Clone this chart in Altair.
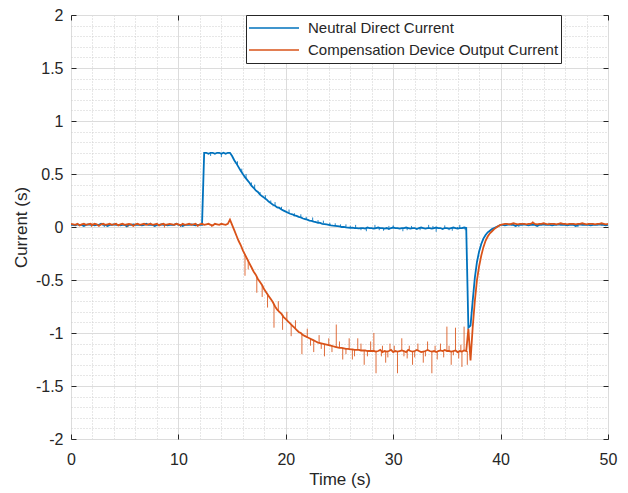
import altair as alt
import pandas as pd

# Sample grid: 0.2 s steps from 0 to 50 s
T = [round(0.2 * i, 1) for i in range(251)]

# ---- Neutral Direct Current ----
NDC_IDLE = [0.02, 0.02, 0.015, 0.025, 0.02, 0.02, 0.01, 0.02, 0.025, 0.02,
            0.02, 0.015, 0.02, 0.02, 0.03, 0.02, 0.02, 0.01, 0.02, 0.02,
            0.025, 0.02, 0.02, 0.015, 0.02, 0.02, 0.005, 0.02, 0.02, 0.025,
            0.02, 0.02, 0.02, 0.015, 0.02, 0.03, 0.02, 0.02, 0.02, 0.01,
            0.02, 0.02, 0.025, 0.02, 0.02, 0.015, 0.02, 0.02, 0.02, 0.03,
            0.02, 0.02, 0.01, 0.02, 0.02, 0.02, 0.025, 0.02, 0.015, 0.02,
            0.02, 0.02]                                   # 0.0 .. 12.2 s
NDC_STEP = [0.70, 0.70, 0.69, 0.70, 0.70, 0.69, 0.70, 0.70, 0.69, 0.70,
            0.69, 0.70, 0.70]                             # 12.4 .. 14.8 s
NDC_DECAY = [0.67, 0.63, 0.60, 0.565, 0.53, 0.50, 0.47, 0.445, 0.42, 0.39,
             0.37, 0.345, 0.33, 0.305, 0.29, 0.275, 0.26, 0.24, 0.225, 0.21,
             0.20, 0.185, 0.18, 0.165, 0.155, 0.145, 0.135, 0.125, 0.12, 0.11,
             0.105, 0.095, 0.09, 0.08, 0.075, 0.07, 0.06, 0.058, 0.05, 0.045,
             0.04, 0.038, 0.03, 0.028, 0.025, 0.02, 0.015, 0.012, 0.01, 0.008,
             0.005, 0.0, 0.002, -0.003, -0.005, -0.008, -0.006, -0.01, -0.01, -0.012,
             -0.01]                                       # 15.0 .. 27.0 s
NDC_FLAT = [-0.01, -0.015, -0.005, -0.01, -0.01, -0.015, -0.01, -0.005, -0.01, -0.01,
            -0.015, -0.01, -0.02, -0.01, -0.005, -0.01, -0.01, -0.015, -0.01, -0.01,
            -0.005, -0.01, -0.015, -0.01, -0.01, -0.02, -0.01, -0.005, -0.01, -0.015,
            -0.01, -0.01, -0.015, -0.01, -0.005, -0.01, -0.01, -0.02, -0.01, -0.01,
            -0.015, -0.01, -0.005, -0.01, -0.015, -0.01, -0.01, -0.005, -0.01]  # 27.2 .. 36.8 s
NDC_DIP = [-0.95, -0.93, -0.70, -0.48, -0.33, -0.23, -0.16, -0.11, -0.075, -0.05,
           -0.035, -0.02, -0.01, 0.0, 0.01]               # 37.0 .. 39.8 s
NDC_END = [0.02, 0.02, 0.015, 0.02, 0.025, 0.02, 0.02, 0.01, 0.02, 0.02,
           0.02, 0.025, 0.02, 0.015, 0.02, 0.02, 0.02, 0.01, 0.02, 0.02,
           0.025, 0.02, 0.02, 0.02, 0.015, 0.02, 0.02, 0.025, 0.02, 0.02,
           0.02, 0.015, 0.02, 0.02, 0.02, 0.01, 0.02, 0.025, 0.02, 0.02,
           0.02, 0.02, 0.015, 0.02, 0.02, 0.02, 0.025, 0.02, 0.02, 0.015,
           0.02]                                          # 40.0 .. 50.0 s

# ---- Compensation Device Output Current ----
CDO_IDLE = [0.03, 0.025, 0.02, 0.03, 0.015, 0.025, 0.03, 0.02, 0.025, 0.03,
            0.02, 0.03, 0.025, 0.01, 0.025, 0.03, 0.02, 0.025, 0.03, 0.02,
            0.025, 0.03, 0.015, 0.025, 0.03, 0.02, 0.025, 0.03, 0.025, 0.01,
            0.025, 0.03, 0.02, 0.025, 0.03, 0.02, 0.025, 0.03, 0.02, 0.025,
            0.03, 0.015, 0.025, 0.03, 0.02, 0.025, 0.03, 0.025, 0.02, 0.03,
            0.025, 0.015, 0.03, 0.02, 0.025, 0.03, 0.02, 0.025, 0.03, 0.01,
            0.025, 0.03, 0.02, 0.025, 0.03, 0.02, 0.015, 0.03, 0.025, 0.02,
            0.03, 0.025, 0.02, 0.03]                      # 0.0 .. 14.6 s
CDO_KICK = [0.07]                                         # 14.8 s
CDO_DECAY = [0.02, -0.03, -0.08, -0.13, -0.17, -0.22, -0.26, -0.30, -0.34, -0.38,
             -0.42, -0.45, -0.49, -0.52, -0.55, -0.59, -0.62, -0.65, -0.68, -0.71,
             -0.75, -0.78, -0.80, -0.82, -0.85, -0.87, -0.89, -0.91, -0.93, -0.95,
             -0.97, -0.99, -1.00, -1.02, -1.03, -1.04, -1.05, -1.06, -1.07, -1.08,
             -1.09, -1.095, -1.10, -1.105, -1.11, -1.115, -1.12, -1.125, -1.13, -1.135,
             -1.14, -1.14, -1.145, -1.15, -1.15, -1.155, -1.155, -1.16, -1.16, -1.16,
             -1.165, -1.165, -1.165, -1.17, -1.17, -1.17]  # 15.0 .. 28.0 s
CDO_FLAT = [-1.17, -1.175, -1.17, -1.16, -1.18, -1.17, -1.175, -1.17, -1.16, -1.18,
            -1.17, -1.175, -1.17, -1.165, -1.17, -1.18, -1.16, -1.17, -1.175, -1.17,
            -1.16, -1.17, -1.18, -1.175, -1.17, -1.16, -1.17, -1.175, -1.17, -1.18,
            -1.17, -1.165, -1.17, -1.16, -1.17, -1.17, -1.175, -1.17, -1.165, -1.18,
            -1.17, -1.175, -1.165, -1.17]                 # 28.2 .. 36.8 s
CDO_DIP = [-0.96, -1.26, -0.95, -0.70, -0.50, -0.37, -0.27, -0.19, -0.13, -0.09,
           -0.06, -0.04, -0.02, -0.005, 0.01]             # 37.0 .. 39.8 s
CDO_END = [0.02, 0.025, 0.03, 0.03, 0.025, 0.03, 0.035, 0.03, 0.025, 0.03,
           0.03, 0.03, 0.025, 0.03, 0.03, 0.04, 0.03, 0.025, 0.03, 0.03,
           0.035, 0.03, 0.025, 0.03, 0.03, 0.03, 0.025, 0.03, 0.035, 0.03,
           0.03, 0.025, 0.03, 0.03, 0.03, 0.025, 0.03, 0.03, 0.035, 0.03,
           0.025, 0.03, 0.03, 0.03, 0.025, 0.03, 0.03, 0.035, 0.03, 0.025,
           0.03]                                          # 40.0 .. 50.0 s

# Short noise spikes: time, level they leave from, level they reach
NDC_SPIKE_T = [3.1, 7.4, 10.2, 13.0, 14.0, 15.5, 15.9, 16.3, 16.8, 17.1,
               17.6, 18.1, 18.6, 19.0, 19.6, 20.3, 20.8, 21.4, 21.9, 22.5,
               23.0, 23.5, 24.1, 24.6, 25.1, 25.6, 26.0, 26.5, 27.0, 27.5,
               28.3, 28.7, 29.1, 29.6, 30.0, 30.9, 31.3, 31.7, 32.5, 33.3,
               33.7, 34.0, 34.8, 35.2, 35.5, 36.0, 36.2, 36.7, 41.7, 44.5,
               47.2]
NDC_SPIKE_FROM = [0.02, 0.02, 0.02, 0.70, 0.70, 0.58, 0.52, 0.46, 0.39, 0.36,
                  0.305, 0.265, 0.225, 0.20, 0.165, 0.135, 0.11, 0.09, 0.072, 0.06,
                  0.04, 0.035, 0.02, 0.01, 0.003, -0.003, -0.008, -0.01, -0.01, -0.01,
                  -0.01, -0.01, -0.01, -0.01, -0.01, -0.01, -0.01, -0.01, -0.01, -0.01,
                  -0.01, -0.01, -0.01, -0.01, -0.01, -0.01, -0.01, -0.01, 0.02, 0.02,
                  0.02]
NDC_SPIKE_TO = [0.0, 0.04, 0.0, 0.67, 0.66, 0.62, 0.55, 0.50, 0.42, 0.40,
                0.33, 0.30, 0.25, 0.235, 0.19, 0.165, 0.13, 0.12, 0.095, 0.09,
                0.065, 0.06, 0.04, 0.035, 0.025, 0.025, 0.012, 0.02, -0.03, -0.04,
                0.02, -0.03, -0.035, 0.01, 0.015, -0.04, -0.03, 0.01, -0.03, 0.02,
                0.01, -0.045, 0.015, -0.03, -0.035, 0.0, 0.02, -0.03, 0.0, 0.04,
                0.0]

CDO_SPIKE_T = [1.9, 5.3, 8.7, 13.1, 16.2, 16.5, 17.3, 17.8, 18.3, 18.9,
               19.3, 19.7, 20.1, 20.5, 20.9, 21.5, 22.0, 22.3, 22.6, 23.1,
               23.3, 23.6, 24.0, 24.3, 24.7, 25.0, 25.3, 25.6, 25.9, 26.2,
               26.4, 26.7, 27.0, 27.3, 27.6, 27.9, 28.2, 28.4, 28.9, 29.0,
               29.3, 29.5, 29.7, 30.1, 30.4, 30.8, 31.0, 31.3, 31.5, 31.8,
               32.0, 32.3, 32.8, 33.0, 33.2, 33.6, 33.9, 34.1, 34.4, 34.7,
               35.0, 35.2, 35.4, 35.6, 35.8, 36.1, 36.3, 36.4, 36.6, 36.9,
               43.0]
CDO_SPIKE_FROM = [0.025, 0.025, 0.025, 0.025, -0.26, -0.32, -0.47, -0.55, -0.63, -0.73,
                  -0.79, -0.84, -0.88, -0.92, -0.96, -1.01, -1.04, -1.055, -1.07, -1.09,
                  -1.095, -1.105, -1.115, -1.12, -1.13, -1.14, -1.14, -1.15, -1.15, -1.155,
                  -1.16, -1.16, -1.165, -1.165, -1.17, -1.17, -1.17, -1.17, -1.17, -1.17,
                  -1.17, -1.17, -1.17, -1.17, -1.17, -1.17, -1.17, -1.17, -1.17, -1.17,
                  -1.17, -1.17, -1.17, -1.17, -1.17, -1.17, -1.17, -1.17, -1.17, -1.17,
                  -1.17, -1.17, -1.17, -1.17, -1.17, -1.17, -1.17, -1.17, -1.17, -1.17,
                  0.03]
CDO_SPIKE_TO = [0.0, 0.0, -0.005, 0.0, -0.46, -0.40, -0.62, -0.66, -0.76, -0.95,
                -0.70, -0.97, -0.80, -1.03, -0.88, -1.20, -0.96, -1.12, -1.18, -1.02,
                -1.15, -1.22, -1.05, -1.18, -0.92, -1.08, -1.25, -1.20, -1.05, -1.25,
                -1.22, -1.05, -1.10, -1.30, -1.22, -1.08, -1.00, -1.38, -1.22, -1.12,
                -1.28, -1.23, -1.10, -1.12, -1.38, -1.05, -1.22, -1.24, -1.12, -1.30,
                -1.23, -1.10, -1.28, -1.22, -1.08, -1.38, -1.12, -1.25, -1.10, -1.23,
                -0.94, -1.12, -1.30, -1.21, -0.95, -1.24, -1.11, -1.32, -0.94, -1.30,
                0.055]

SERIES = ["Neutral Direct Current", "Compensation Device Output Current"]
COLORS = ["#0072BD", "#D95319"]

ndc = NDC_IDLE + NDC_STEP + NDC_DECAY + NDC_FLAT + NDC_DIP + NDC_END
cdo = CDO_IDLE + CDO_KICK + CDO_DECAY + CDO_FLAT + CDO_DIP + CDO_END
assert len(ndc) == len(T) and len(cdo) == len(T)
assert len(NDC_SPIKE_T) == len(NDC_SPIKE_FROM) == len(NDC_SPIKE_TO)
assert len(CDO_SPIKE_T) == len(CDO_SPIKE_FROM) == len(CDO_SPIKE_TO)

X_MAJOR = [0, 10, 20, 30, 40, 50]
X_MINOR = list(range(0, 51, 2))
Y_MAJOR = [-2, -1.5, -1, -0.5, 0, 0.5, 1, 1.5, 2]
Y_MINOR = [round(-2 + 0.1 * k, 1) for k in range(41)]

rows = []
for name, vals in zip(SERIES, [ndc, cdo]):
    for t, v in zip(T, vals):
        rows.append({"t": t, "v": v, "series": name})
df = pd.DataFrame(rows)

ndc_spikes = pd.DataFrame({"t": NDC_SPIKE_T, "a": NDC_SPIKE_FROM, "b": NDC_SPIKE_TO})
cdo_spikes = pd.DataFrame({"t": CDO_SPIKE_T, "a": CDO_SPIKE_FROM, "b": CDO_SPIKE_TO})

FONT = "Liberation Sans"
INK = "#262626"
xs = alt.Scale(domain=[0, 50], nice=False, zero=False)
ys = alt.Scale(domain=[-2, 2], nice=False, zero=False)
base = alt.Chart(df)


def axis_layer(xaxis, yaxis):
    return base.mark_point(opacity=0).encode(
        x=alt.X("t:Q", scale=xs, axis=xaxis),
        y=alt.Y("v:Q", scale=ys, axis=yaxis),
    )


blank = dict(labels=False, ticks=False, domain=False, title=None)
plain_label = "toString(datum.value)"

minor = axis_layer(
    alt.Axis(values=X_MINOR, orient="bottom", grid=True, gridDash=[1, 2],
             gridColor="#cfcfcf", gridWidth=1, **blank),
    alt.Axis(values=Y_MINOR, orient="left", grid=True, gridDash=[1, 2],
             gridColor="#cfcfcf", gridWidth=1, **blank),
)

major = axis_layer(
    alt.Axis(values=X_MAJOR, orient="bottom", grid=True, gridColor="#dcdcdc",
             ticks=False, domain=False, labelFont=FONT, labelFontSize=16,
             labelColor=INK, labelPadding=12, labelExpr=plain_label,
             labelFlush=False, title="Time (s)", titleFont=FONT, titleFontSize=17,
             titleFontWeight="normal", titleColor=INK, titlePadding=4),
    alt.Axis(values=Y_MAJOR, orient="left", grid=True, gridColor="#dcdcdc",
             ticks=False, domain=False, labelFont=FONT, labelFontSize=16,
             labelColor=INK, labelPadding=8, labelExpr=plain_label,
             labelFlush=False, title="Current (s)", titleFont=FONT, titleFontSize=17,
             titleFontWeight="normal", titleColor=INK, titlePadding=5),
)

ticks_bl = axis_layer(
    alt.Axis(values=X_MAJOR, orient="bottom", offset=-5, tickSize=5, tickColor=INK,
             grid=False, labels=False, domain=False, title=None),
    alt.Axis(values=Y_MAJOR, orient="left", offset=-5, tickSize=5, tickColor=INK,
             grid=False, labels=False, domain=False, title=None),
)

ticks_tr = axis_layer(
    alt.Axis(values=X_MAJOR, orient="top", offset=-5, tickSize=5, tickColor=INK,
             grid=False, labels=False, domain=False, title=None),
    alt.Axis(values=Y_MAJOR, orient="right", offset=-5, tickSize=5, tickColor=INK,
             grid=False, labels=False, domain=False, title=None),
)


def spike_layer(frame, color):
    return alt.Chart(frame).mark_rule(strokeWidth=1, color=color, opacity=0.85).encode(
        x=alt.X("t:Q", scale=xs, axis=None),
        y=alt.Y("a:Q", scale=ys, axis=None),
        y2="b:Q",
    )


lines = base.mark_line(strokeWidth=1.8, clip=True).encode(
    x=alt.X("t:Q", scale=xs, axis=None),
    y=alt.Y("v:Q", scale=ys, axis=None),
    color=alt.Color(
        "series:N",
        scale=alt.Scale(domain=SERIES, range=COLORS),
        sort=SERIES,
        legend=alt.Legend(
            orient="none", legendX=175, legendY=0, title=None,
            symbolType="stroke", symbolSize=2500, symbolStrokeWidth=1.5,
            clipHeight=22, labelFont=FONT, labelFontSize=15, labelColor=INK,
            labelOffset=8, padding=2, rowPadding=0, labelLimit=400,
            strokeColor=INK, fillColor="white",
        ),
    ),
    detail="series:N",
)

chart = (
    alt.layer(minor, major, ticks_bl, ticks_tr,
              spike_layer(ndc_spikes, COLORS[0]), lines,
              spike_layer(cdo_spikes, COLORS[1]))
    .resolve_axis(x="independent", y="independent")
    .properties(
        width=537, height=424,
        autosize=alt.AutoSizeParams(type="none"),
        padding={"left": 71, "top": 15, "right": 20, "bottom": 54},
        background="white",
    )
    .configure_view(stroke="#555555", strokeWidth=1)
)

chart.save("out.html", embed_options={"renderer": "svg", "actions": False})
